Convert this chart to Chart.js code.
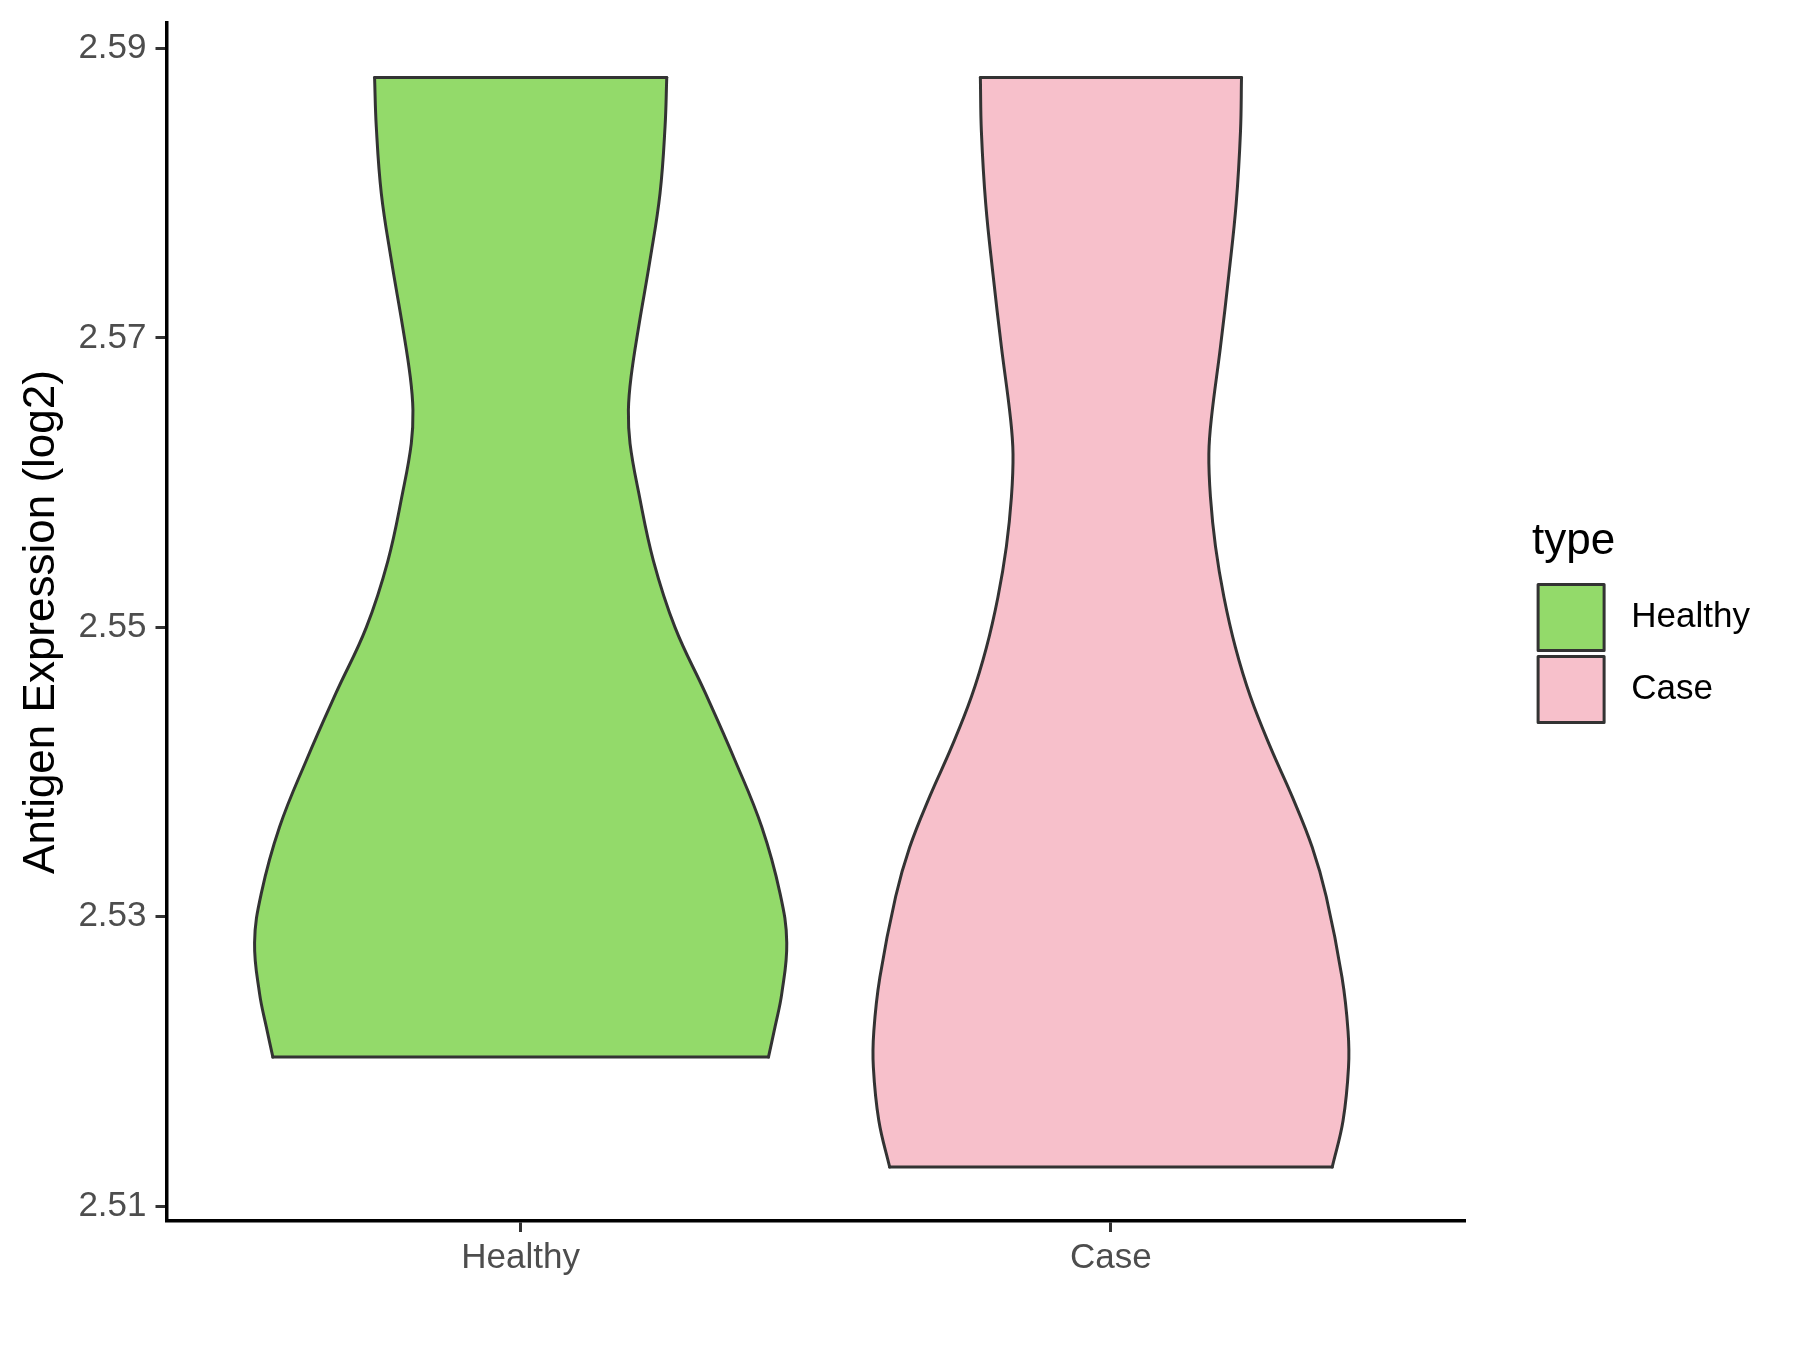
<!DOCTYPE html>
<html>
<head>
<meta charset="utf-8">
<title>Antigen Expression (log2)</title>
<script src="https://cdn.jsdelivr.net/npm/chart.js@4.4.1/dist/chart.umd.min.js"></script>
<style>
    html, body { margin: 0; padding: 0; background: #ffffff; }
    #chartContainer { width: 1800px; height: 1350px; }
</style>
</head>
<body>
<div id="chartContainer"><canvas id="myChart" width="1800" height="1350"></canvas></div>
<script>
//
// Variables
//

var groups = ['Healthy', 'Case'];
var groupPositions = [1, 2];
var fillColors = ['#93da6a', '#f7c0cb'];
var lineColor = '#333333';

// Violin outlines, read top to bottom: y value and half width (x units)
var healthyY = [2.5880, 2.5846, 2.5800, 2.5754, 2.5708, 2.5673, 2.5650, 2.5627, 2.5593, 2.5546,
    2.5500, 2.5455, 2.5408, 2.5362, 2.5316, 2.5282, 2.5247, 2.5224, 2.5203];
var healthyHalfWidth = [0.2475, 0.2446, 0.2361, 0.2192, 0.2000, 0.1870, 0.1825, 0.1853, 0.2000, 0.2249,
    0.2615, 0.3124, 0.3632, 0.4085, 0.4395, 0.4508, 0.4424, 0.4310, 0.4198];

var caseY = [2.5880, 2.5843, 2.5793, 2.5744, 2.5694, 2.5645, 2.5620, 2.5590, 2.5556, 2.5521,
    2.5486, 2.5452, 2.5417, 2.5383, 2.5348, 2.5314, 2.5258, 2.5221, 2.5196, 2.5159, 2.5127];
var caseHalfWidth = [0.2212, 0.2195, 0.2122, 0.1998, 0.1856, 0.1703, 0.1659, 0.1686, 0.1771, 0.1914,
    0.2110, 0.2364, 0.2703, 0.3071, 0.3410, 0.3647, 0.3915, 0.4017, 0.4025, 0.3932, 0.3749];

var outlineY = [healthyY, caseY];
var outlineHalfWidth = [healthyHalfWidth, caseHalfWidth];

var yTicks = [2.51, 2.53, 2.55, 2.57, 2.59];
var yMin = 2.50897;
var yMax = 2.59177;

Chart.defaults.font.family = '"Liberation Sans", Arial, Helvetica, sans-serif';


//
// Methods
//

/**
 * One side of a violin, bottom to top so the y (index) axis stays sorted
 */
function violinSide(center, ys, halfWidths, side) {
    var points = [];
    for (var i = ys.length - 1; i >= 0; i--) {
        points.push({ x: center + side * halfWidths[i], y: ys[i] });
    }
    return points;
}


/**
 * Four line datasets per violin: left side (filled to right side), right side, top and bottom
 */
function violinDatasets(index) {
    var center = groupPositions[index];
    var ys = outlineY[index];
    var hw = outlineHalfWidth[index];
    var last = ys.length - 1;

    var base = {
        borderColor: lineColor,
        borderWidth: 3,
        pointRadius: 0,
        borderCapStyle: 'round',
        borderJoinStyle: 'round',
        fill: false,
        tension: 0
    };

    return [
        Object.assign({}, base, {
            label: groups[index],
            data: violinSide(center, ys, hw, -1),
            backgroundColor: fillColors[index],
            fill: '+1',
            tension: 0.4
        }),
        Object.assign({}, base, {
            label: groups[index] + ' right',
            data: violinSide(center, ys, hw, 1),
            tension: 0.4
        }),
        Object.assign({}, base, {
            label: groups[index] + ' top',
            data: [{ x: center - hw[0], y: ys[0] }, { x: center + hw[0], y: ys[0] }]
        }),
        Object.assign({}, base, {
            label: groups[index] + ' bottom',
            data: [{ x: center - hw[last], y: ys[last] }, { x: center + hw[last], y: ys[last] }]
        })
    ];
}


/**
 * Push the legend a little to the right of the plot, like ggplot does
 */
var legendShift = {
    id: 'legendShift',
    afterLayout: function (chart) {
        chart.legend.left += 67;
        chart.legend.right += 67;
    }
};


//
// Chart
//

var ctx = document.querySelector('#myChart').getContext('2d');
var chart = new Chart(ctx, {
    type: 'line',
    data: {
        datasets: violinDatasets(0).concat(violinDatasets(1))
    },
    plugins: [legendShift],
    options: {
        indexAxis: 'y',
        responsive: false,
        animation: false,
        devicePixelRatio: 1,
        events: [],
        layout: {
            padding: { top: 23, right: 107, bottom: 0, left: 0 }
        },
        scales: {
            x: {
                type: 'linear',
                min: 0.4,
                max: 2.6,
                afterBuildTicks: function (scale) {
                    scale.ticks = groupPositions.map(function (v) { return { value: v }; });
                },
                afterFit: function (scale) {
                    scale.height = 129;
                    scale.paddingLeft = 0;
                    scale.paddingRight = 0;
                },
                ticks: {
                    callback: function (value) { return groups[value - 1]; },
                    color: '#4d4d4d',
                    font: { size: 35 },
                    padding: 5.5,
                    maxRotation: 0,
                    autoSkip: false
                },
                grid: {
                    drawOnChartArea: false,
                    tickLength: 11,
                    tickWidth: 3,
                    tickColor: '#333333'
                },
                border: { color: '#000000', width: 3.5 }
            },
            y: {
                type: 'linear',
                min: yMin,
                max: yMax,
                afterBuildTicks: function (scale) {
                    scale.ticks = yTicks.map(function (v) { return { value: v }; });
                },
                afterFit: function (scale) {
                    scale.width = 166.5;
                    scale.paddingTop = 0;
                    scale.paddingBottom = 0;
                },
                ticks: {
                    callback: function (value) { return value.toFixed(2); },
                    color: '#4d4d4d',
                    font: { size: 35 },
                    padding: 9
                },
                grid: {
                    drawOnChartArea: false,
                    tickLength: 11,
                    tickWidth: 3,
                    tickColor: '#333333'
                },
                border: { color: '#000000', width: 3.5 },
                title: {
                    display: true,
                    text: 'Antigen Expression (log2)',
                    color: '#000000',
                    font: { size: 44 },
                    padding: { top: 15, bottom: 0 }
                }
            }
        },
        plugins: {
            filler: { drawTime: 'beforeDatasetsDraw' },
            tooltip: { enabled: false },
            legend: {
                position: 'right',
                align: 'center',
                fullSize: false,
                title: {
                    display: true,
                    text: 'type',
                    color: '#000000',
                    font: { size: 44 },
                    padding: { top: 4, bottom: 6 },
                    position: 'start'
                },
                labels: {
                    boxWidth: 66,
                    boxHeight: 66,
                    padding: 6,
                    color: '#000000',
                    font: { size: 35 },
                    generateLabels: function () {
                        return groups.map(function (name, i) {
                            return {
                                text: ' ' + name,
                                fillStyle: fillColors[i],
                                strokeStyle: lineColor,
                                lineWidth: 3,
                                lineJoin: 'round',
                                hidden: false,
                                datasetIndex: i * 4
                            };
                        });
                    }
                }
            }
        }
    }
});
</script>
</body>
</html>
